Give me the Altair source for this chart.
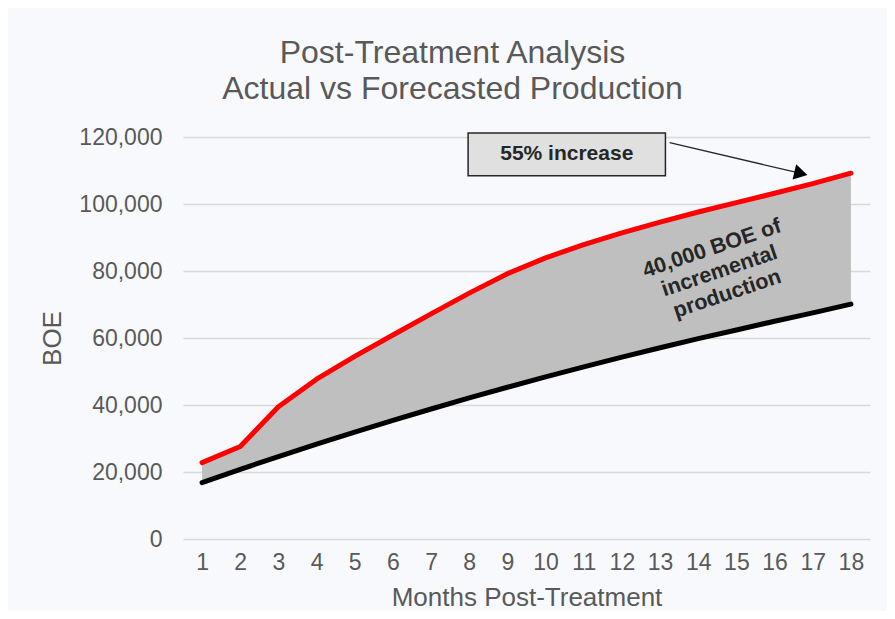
import altair as alt
import pandas as pd

# ---- data ----
months = list(range(1, 19))
actual = [22800, 27600, 39500, 47700, 54500, 60900, 67200, 73400, 79200,
          83900, 87900, 91400, 94600, 97600, 100400, 103200, 106100, 109200]
forecast = [16800, 20800, 24600, 28300, 31900, 35400, 38800, 42100, 45300,
            48400, 51400, 54300, 57100, 59800, 62400, 65000, 67500, 70100]
y_ticks = [0, 20000, 40000, 60000, 80000, 100000, 120000]
title_lines = ["Post-Treatment Analysis", "Actual vs Forecasted Production"]

box_label = "55% increase"
box_x = [7.97, 13.14]
box_y = [108400, 121200]
arrow_from = [13.25, 118300]
arrow_to = [16.69, 109130]
note_label = "40,000 BOE of\nincremental\nproduction"
note_pos = [14.36, 86600]

FONT = "Liberation Sans"
GREY = "#595959"

df = pd.DataFrame({"month": months, "actual": actual, "forecast": forecast})
box_df = pd.DataFrame({"x1": [box_x[0]], "x2": [box_x[1]], "y1": [box_y[0]], "y2": [box_y[1]],
                       "xc": [(box_x[0] + box_x[1]) / 2], "yc": [(box_y[0] + box_y[1]) / 2],
                       "label": [box_label]})
arrow_df = pd.DataFrame({"x1": [arrow_from[0]], "y1": [arrow_from[1]],
                         "x2": [arrow_to[0]], "y2": [arrow_to[1]]})
note_df = pd.DataFrame({"x": [note_pos[0]], "y": [note_pos[1]], "label": [note_label]})

X_SCALE = alt.Scale(domain=[0.5, 18.5], nice=False, zero=False)
Y_SCALE = alt.Scale(domain=[0, 120000], nice=False)

x_axis = alt.Axis(values=months, title="Months Post-Treatment", grid=False, ticks=False,
                  domain=False, labelFontSize=23, labelColor=GREY, labelFont=FONT,
                  labelPadding=12, titleFontSize=26, titleColor=GREY, titleFont=FONT,
                  titleFontWeight="normal", titlePadding=10)
y_axis = alt.Axis(values=y_ticks, format=",.0f", title="BOE", grid=True, gridColor="#d9d9d9",
                  gridWidth=1.5, ticks=False, domain=False, labelFontSize=23,
                  labelColor=GREY, labelFont=FONT, labelPadding=21, titleFontSize=26,
                  titleColor=GREY, titleFont=FONT, titleFontWeight="normal", titlePadding=13)


def X(field):
    return alt.X(field, type="quantitative", scale=X_SCALE, axis=x_axis)


def Y(field):
    return alt.Y(field, type="quantitative", scale=Y_SCALE, axis=y_axis)


base = alt.Chart(df)
area = base.mark_area(color="#bfbfbf", opacity=1).encode(
    x=X("month"), y=Y("actual"), y2="forecast")
black_line = base.mark_line(color="#000000", strokeWidth=5, strokeCap="round",
                            strokeJoin="round").encode(
    x=X("month"), y=Y("forecast"))
red_line = base.mark_line(color="#ff0000", strokeWidth=5, strokeCap="round",
                          strokeJoin="round").encode(
    x=X("month"), y=Y("actual"))

box = alt.Chart(box_df).mark_rect(fill="#e0e0e0", stroke="#262626", strokeWidth=1.5).encode(
    x=X("x1"), x2="x2", y=Y("y1"), y2="y2")
box_text = alt.Chart(box_df).mark_text(fontSize=21, fontWeight="bold", color="#262626",
                                       font=FONT).encode(x=X("xc"), y=Y("yc"), text="label")
arrow = alt.Chart(arrow_df).mark_rule(color="#262626", strokeWidth=1.3).encode(
    x=X("x1"), y=Y("y1"), x2="x2", y2="y2")
arrow_head = alt.Chart(arrow_df).mark_point(shape="triangle-right", filled=True, size=240,
                                            angle=13.3, color="#000000", opacity=1).encode(
    x=X("x2"), y=Y("y2"))
note = alt.Chart(note_df).mark_text(angle=341.4, fontSize=21.5, fontWeight="bold",
                                    lineBreak="\n", lineHeight=24, color="#262626",
                                    font=FONT).encode(x=X("x"), y=Y("y"), text="label")

chart = alt.layer(area, black_line, red_line, box, box_text, arrow, arrow_head, note).properties(
    width=687, height=402,
    autosize="none",
    padding={"left": 175, "top": 129, "right": 17, "bottom": 72},
    background="#f8f9fc",
    title=alt.TitleParams(text=title_lines, anchor="middle", dx=-74, fontSize=32,
                          lineHeight=36, color=GREY, font=FONT, fontWeight="normal",
                          offset=20),
).configure_view(stroke=None)

chart.save("out.html", embed_options={"renderer": "svg", "actions": False})
